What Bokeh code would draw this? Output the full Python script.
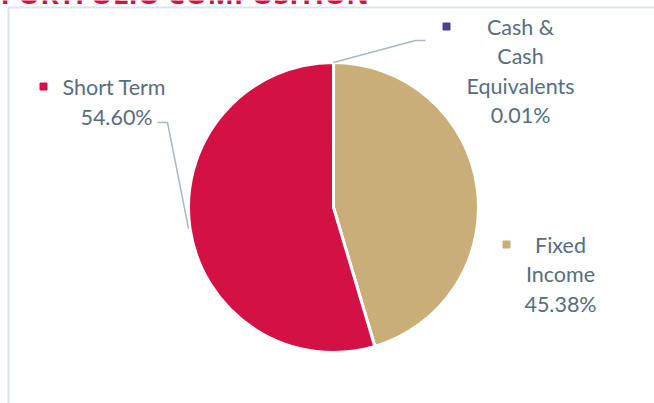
import numpy as np
from bokeh.plotting import figure
from bokeh.models import ColumnDataSource
from bokeh.core.properties import value
from bokeh.embed import file_html
from bokeh.resources import INLINE

title = "PORTFOLIO COMPOSITION"
categories = ["Cash & Cash Equivalents", "Fixed Income", "Short Term"]
shares = [0.01, 45.38, 54.60]
colors = ["#4a4190", "#c9ae78", "#d31145"]
label_lines = [["Cash &", "Cash", "Equivalents", "0.01%"],
               ["Fixed", "Income", "45.38%"],
               ["Short Term", "54.60%"]]

W, H = 654, 403
p = figure(width=W, height=H, x_range=(0, W), y_range=(0, H),
           output_backend="svg", toolbar_location=None, min_border=0)
p.axis.visible = False
p.grid.visible = False
p.outline_line_color = None
p.background_fill_color = "white"

def Y(ys):
    return H - ys

# pie
cx, cy, r = 333, Y(207), 145
vals = np.array(shares, dtype=float)
frac = vals / vals.sum()
cum = np.concatenate([[0], np.cumsum(frac)])
start = np.pi / 2 - cum[1:] * 2 * np.pi
end = np.pi / 2 - cum[:-1] * 2 * np.pi
src = ColumnDataSource(dict(start=start, end=end, color=colors, cat=categories))
p.wedge(x=cx, y=cy, radius=r, start_angle="start", end_angle="end",
        fill_color="color", line_color="white", line_width=3, source=src)

# frame lines
frame = "#dde3e8"
p.line([8, W], [Y(7), Y(7)], line_color=frame, line_width=2)
p.line([8, 8], [Y(7), 0], line_color=frame, line_width=2)

# title (cut off at top, as in the source)
p.text(x=[0], y=[Y(-7.5)], text=[title], text_font=value("Open Sans"),
       text_font_style="bold", text_font_size="28px", text_color="#d31145",
       text_baseline="alphabetic", text_align="left")

# leader lines
lead = "#a9b8c6"
p.line([333, 415, 425], [Y(62), Y(40), Y(40)], line_color=lead, line_width=1.5)
p.line([188, 167, 157], [Y(228), Y(122), Y(122)], line_color=lead, line_width=1.5)

txt_color = "#586d80"
fs = "21.5px"
font = value("Lato")
lh = 29.5

# Cash label
p.scatter([446], [Y(26)], marker="square", size=7, color=colors[0])
p.text(x=[520] * 4, y=[Y(26 + i * lh) for i in range(4)], text=label_lines[0],
       text_font=font, text_font_size=fs, text_color=txt_color,
       text_align="center", text_baseline="middle")

# Fixed Income label
p.scatter([506], [Y(244)], marker="square", size=7, color=colors[1])
p.text(x=[560] * 3, y=[Y(244 + i * lh) for i in range(3)], text=label_lines[1],
       text_font=font, text_font_size=fs, text_color=txt_color,
       text_align="center", text_baseline="middle")

# Short Term label
p.scatter([43], [Y(86)], marker="square", size=7, color=colors[2])
p.text(x=[62], y=[Y(86)], text=[label_lines[2][0]],
       text_font=font, text_font_size=fs, text_color=txt_color,
       text_align="left", text_baseline="middle")
p.text(x=[116], y=[Y(116)], text=[label_lines[2][1]],
       text_font=font, text_font_size=fs, text_color=txt_color,
       text_align="center", text_baseline="middle")

open("out.html", "w").write(file_html(p, INLINE))
